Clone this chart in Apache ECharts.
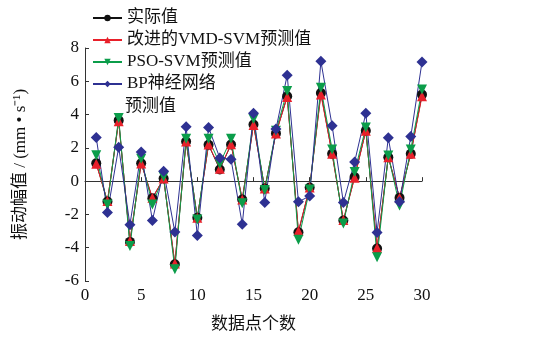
<!DOCTYPE html>
<html>
<head>
<meta charset="utf-8">
<script src="https://cdn.jsdelivr.net/npm/echarts@6/dist/echarts.min.js"></script>
<style>html,body{margin:0;padding:0;background:#fff;}#c{width:557px;height:338px;}</style>
</head>
<body>
<div id="c"></div>
<script>
const xValues = [1,2,3,4,5,6,7,8,9,10,11,12,13,14,15,16,17,18,19,20,21,22,23,24,25,26,27,28,29,30];
const actual = [1.08,-1.22,3.65,-3.65,1.08,-1.03,0.16,-5.0,2.38,-2.2,2.18,0.7,2.2,-1.1,3.4,-0.44,2.87,5.1,-3.07,-0.38,5.3,1.64,-2.37,0.25,3.03,-4.05,1.44,-1.0,1.64,5.2];
const vmdSvm = [1.04,-1.2,3.6,-3.6,1.06,-1.0,0.16,-4.95,2.38,-2.2,2.2,0.75,2.22,-1.1,3.38,-0.44,2.87,5.05,-3.0,-0.38,5.2,1.64,-2.33,0.2,3.03,-4.0,1.44,-1.0,1.64,5.1];
const psoSvm = [1.55,-1.4,3.8,-3.9,1.35,-1.4,0.26,-5.3,2.54,-2.3,2.54,1.05,2.54,-1.33,3.73,-0.53,3.03,5.41,-3.52,-0.5,5.61,1.9,-2.55,0.55,3.23,-4.57,1.54,-1.47,1.9,5.51];
const bpNet = [2.62,-1.88,2.04,-2.62,1.75,-2.36,0.6,-3.06,3.27,-3.27,3.23,1.39,1.31,-2.59,4.08,-1.28,3.13,6.37,-1.24,-0.9,7.2,3.33,-1.28,1.15,4.08,-3.08,2.6,-1.24,2.68,7.16];
const seriesNames = ['实际值','改进的VMD-SVM预测值','PSO-SVM预测值','BP神经网络预测值'];
const yTicks = {min:-6, max:8, interval:2};
const xTicks = {min:0, max:30, interval:5};

const serif = "'Liberation Serif','Noto Sans CJK SC',serif";
const pair = arr => xValues.map((x,i)=>[x,arr[i]]);
const chart = echarts.init(document.getElementById('c'), null, {renderer:'canvas'});
const mk = (name, data, color, symbol, size, rot) => ({
  name, type:'line', data: pair(data), symbol, symbolSize:size, symbolRotate: rot||0,
  lineStyle:{color, width:1}, itemStyle:{color}, animation:false
});
chart.setOption({
  backgroundColor:'#fff',
  animation:false,
  grid:{left:85, right:135, top:48, bottom:53, containLabel:false},
  legend:{
    orient:'vertical', left:87, top:3, itemGap:2, itemWidth:29, itemHeight:8,
    textStyle:{fontFamily:serif, fontSize:17, color:'#111', lineHeight:20},
    formatter: n => n === seriesNames[3] ? 'BP神经网络' : n,
    data: seriesNames
  },
  graphic:[{type:'text', left:125, top:98, style:{text:'预测值', font:"17px " + serif, fill:'#111'}}],
  xAxis:{
    type:'value', min:xTicks.min, max:xTicks.max, interval:xTicks.interval,
    name:'数据点个数', nameLocation:'middle', nameGap:35,
    nameTextStyle:{fontFamily:serif, fontSize:17, color:'#111'},
    axisLine:{lineStyle:{color:'#333', width:1}},
    axisTick:{inside:true, length:4, lineStyle:{color:'#333'}},
    axisLabel:{fontFamily:serif, fontSize:17, color:'#111', margin:6},
    splitLine:{show:false}
  },
  yAxis:{
    type:'value', min:yTicks.min, max:yTicks.max, interval:yTicks.interval,
    name:'振动幅值 / (mm • s⁻¹)', nameLocation:'middle', nameGap:56,
    nameTextStyle:{fontFamily:serif, fontSize:17, color:'#111'},
    axisLine:{show:true, lineStyle:{color:'#333', width:1}},
    axisTick:{show:true, inside:true, length:4, lineStyle:{color:'#333'}},
    axisLabel:{fontFamily:serif, fontSize:17, color:'#111', margin:6},
    splitLine:{show:false}
  },
  series:[
    mk(seriesNames[0], actual, '#111111', 'circle', 10),
    mk(seriesNames[1], vmdSvm, '#e8202a', 'triangle', 10),
    mk(seriesNames[2], psoSvm, '#0b9d4a', 'triangle', 10, 180),
    mk(seriesNames[3], bpNet, '#2e3192', 'diamond', 11)
  ]
});
</script>
</body>
</html>
